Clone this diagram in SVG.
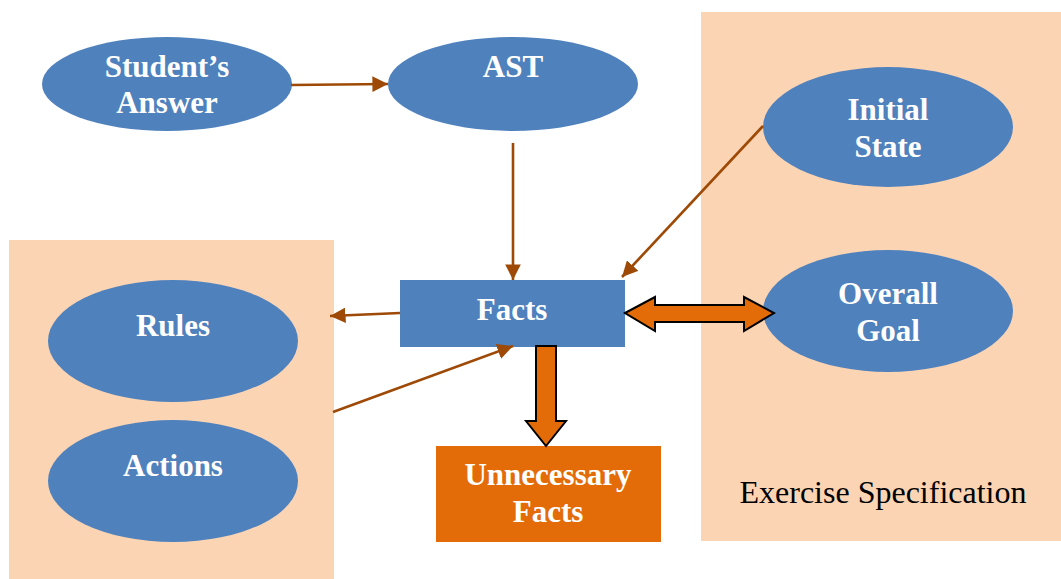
<svg xmlns="http://www.w3.org/2000/svg" width="1061" height="579" viewBox="0 0 1061 579">
  <style>
    .panel { fill: #FBD4B4; }
    .oval { fill: #4F81BD; }
    .lbl { font-weight: bold; font-size: 31px; fill: #FFFFFF; text-anchor: middle; }
    .cap { font-size: 32px; fill: #000000; text-anchor: middle; }
    .link { stroke: #9E4A06; stroke-width: 2.6; fill: none; marker-end: url(#tip); }
    .block { fill: #E36C09; stroke: #000000; stroke-width: 2; stroke-linejoin: miter; }
  </style>
  <defs>
    <marker id="tip" viewBox="0 0 10 10" refX="10" refY="5" markerWidth="6" markerHeight="6" markerUnits="strokeWidth" orient="auto">
      <path d="M0,0 L10,5 L0,10 Z" fill="#9E4A06"/>
    </marker>
  </defs>

  <rect width="1061" height="579" fill="#FFFFFF"/>

  <g font-family="Liberation Serif, DejaVu Serif, serif">
  <!-- background groupings -->
  <g id="exercise-spec">
    <rect class="panel" x="701" y="12" width="360" height="529"/>
    <text class="cap" x="883" y="503">Exercise Specification</text>
  </g>
  <g id="rules-actions-panel">
    <rect class="panel" x="9" y="240" width="325" height="339"/>
  </g>

  <g id="student-answer">
    <ellipse class="oval" cx="167" cy="84" rx="125" ry="47"/>
    <text class="lbl" x="167" y="77">Student’s</text>
    <text class="lbl" x="167" y="113">Answer</text>
  </g>
  <g id="ast">
    <ellipse class="oval" cx="513" cy="84" rx="125" ry="47"/>
    <text class="lbl" x="513" y="77">AST</text>
  </g>
  <g id="initial-state">
    <ellipse class="oval" cx="888" cy="127" rx="125" ry="60"/>
    <text class="lbl" x="888" y="120">Initial</text>
    <text class="lbl" x="888" y="157">State</text>
  </g>
  <g id="overall-goal">
    <ellipse class="oval" cx="888" cy="311" rx="125" ry="61"/>
    <text class="lbl" x="888" y="304">Overall</text>
    <text class="lbl" x="888" y="341">Goal</text>
  </g>
  <g id="rules">
    <ellipse class="oval" cx="173" cy="341" rx="125" ry="61"/>
    <text class="lbl" x="173" y="336">Rules</text>
  </g>
  <g id="actions">
    <ellipse class="oval" cx="173" cy="481" rx="125" ry="61"/>
    <text class="lbl" x="173" y="476">Actions</text>
  </g>
  <g id="facts">
    <rect x="400" y="280" width="225" height="67" fill="#4F81BD"/>
    <text class="lbl" x="512" y="320">Facts</text>
  </g>
  <g id="unnecessary-facts">
    <rect x="436" y="446" width="225" height="96" fill="#E36C09"/>
    <text class="lbl" x="548" y="485">Unnecessary</text>
    <text class="lbl" x="548" y="522">Facts</text>
  </g>
  </g>

  <g id="connectors">
    <line class="link" x1="291" y1="85" x2="388" y2="84"/>
    <line class="link" x1="513" y1="143" x2="513" y2="280"/>
    <line class="link" x1="763" y1="126" x2="622" y2="277"/>
    <line class="link" x1="400" y1="313" x2="330" y2="316"/>
    <line class="link" x1="333" y1="412" x2="513" y2="346"/>
    <!-- two-way block arrow between Facts and Overall Goal -->
    <path class="block" d="M625,313 L655,297 L655,305 L744,305 L744,297 L774,313 L744,331 L744,322 L655,322 L655,331 Z"/>
    <!-- block arrow from Facts down to Unnecessary Facts -->
    <path class="block" d="M536,346 L556,346 L556,421 L566,421 L546,446 L526,421 L536,421 Z"/>
  </g>
</svg>
